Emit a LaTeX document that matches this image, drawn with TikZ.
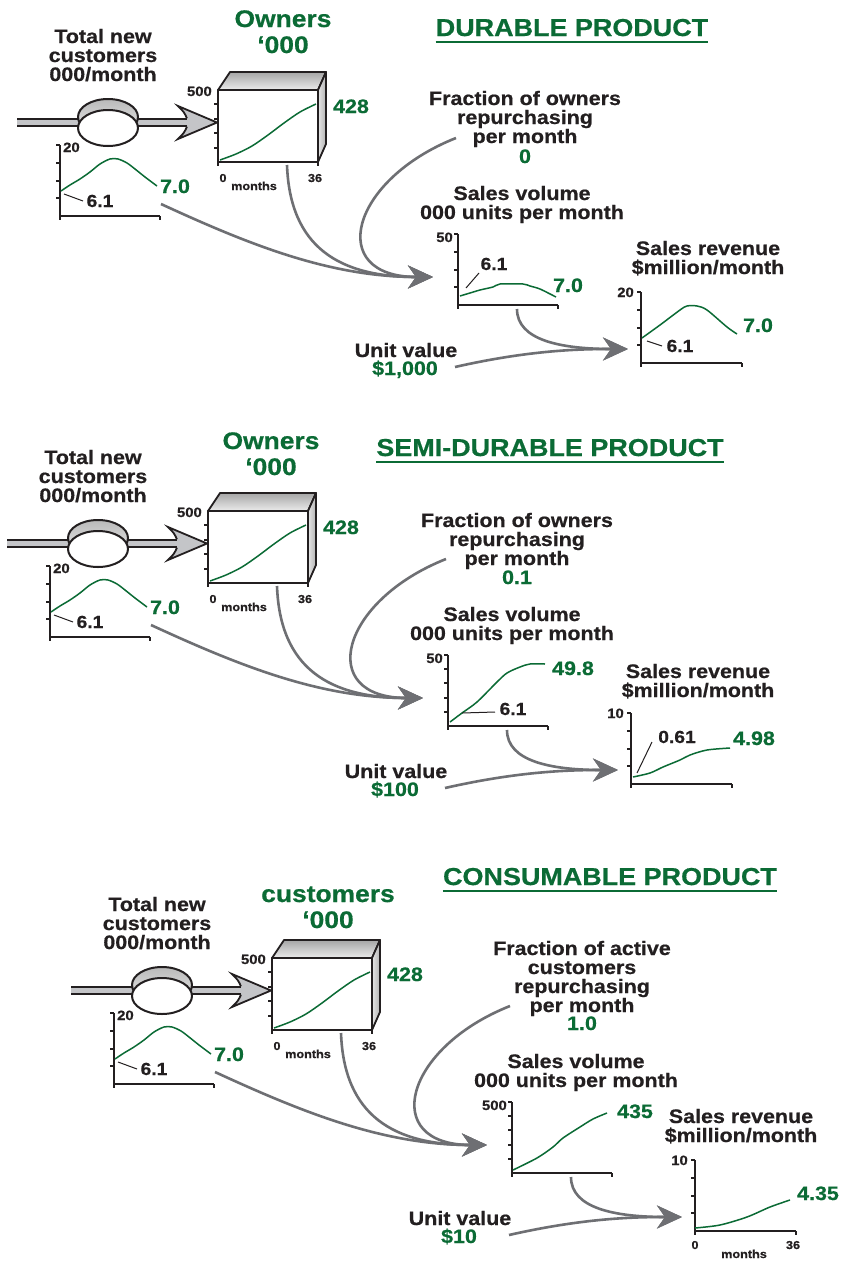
\documentclass[tikz,border=0pt]{standalone}
\usepackage{fontspec}
\setmainfont{Liberation Sans}[FakeStretch=1.1, BoldFeatures={FakeBold=0.6}]
\usetikzlibrary{arrows.meta}

\definecolor{ink}{HTML}{231F20}
\definecolor{leaf}{HTML}{0B6B35}
\definecolor{linkgrey}{HTML}{6E6F73}
\definecolor{pipefill}{HTML}{C4C5C8}

\tikzset{
  lbl/.style={inner sep=0pt, text=ink, align=center, font=\bfseries\fontsize{19.5}{19}\selectfont},
  val/.style={lbl, text=leaf},
  stockname/.style={inner sep=0pt, text=leaf, align=center, font=\bfseries\fontsize{24}{26}\selectfont},
  heading/.style={inner sep=0pt, text=leaf, font=\bfseries\fontsize{24.5}{26}\selectfont},
  scalelbl/.style={inner sep=0pt, text=ink, font=\bfseries\fontsize{13.5}{14}\selectfont},
  tinylbl/.style={inner sep=0pt, text=ink, font=\bfseries\fontsize{11.5}{12}\selectfont},
  notelbl/.style={inner sep=0pt, text=ink, font=\bfseries\fontsize{17.5}{18}\selectfont},
  axisline/.style={draw=ink, line width=2pt},
  trace/.style={draw=leaf, line width=1.5pt, line join=round},
  leaderline/.style={draw=ink, line width=1pt},
  link/.style={draw=linkgrey, line width=2.6pt, -{Stealth[length=25pt, width=23pt, inset=8pt]}},
  outline/.style={draw=ink, line width=2pt, line join=round},
}

% axes of a small time chart: left, top, right, bottom, number of tick intervals
\newcommand\chartaxes[5]{%
  \draw[axisline] (#1,#2) -- (#1,#4) -- (#3,#4);
  \foreach \k in {1,...,#5}{\draw[axisline] (#1,{#2+(\k-1)*(#4-#2)/#5}) -- ++(-4,0);}
  \draw[axisline] (#1,#4) -- ++(0,4);
  \draw[axisline] (#3,#4) -- ++(0,4);
}

% parts shared by every product panel (multi-line labels sit on their last baseline)
% #1 sales-volume tick intervals, #2 sales-volume scale, #3 revenue scale, #4 unit value
\newcommand\panelcore[4]{%
  % inflow pipe and arrow into the stock
  \draw[line width=9pt, draw=ink] (17,122.5) -- (190,122.5);
  \draw[line width=5pt, draw=pipefill] (17,122.5) -- (190,122.5);
  \filldraw[fill=pipefill, draw=ink, line width=1.8pt, line join=miter]
    (187,118.3) .. controls (184,112) .. (178,106) -- (217,122.5)
    -- (178,139) .. controls (184,133) .. (187,126.7);
  % valve
  \filldraw[outline, top color=gray!55, bottom color=gray!15] (108,117) ellipse [x radius=30pt, y radius=18pt];
  \filldraw[outline, fill=white] (108,128) ellipse [x radius=30pt, y radius=18pt];
  % stock box
  \filldraw[outline, line width=1.8pt, top color=gray!70, bottom color=gray!15] (218,90) -- (230,72) -- (326,72) -- (318,90) -- cycle;
  \filldraw[outline, line width=1.8pt, left color=gray!20, right color=gray!60] (318,90) -- (326,72) -- (326,144) -- (318,162) -- cycle;
  \filldraw[outline, fill=white] (218,90) rectangle (318,162);
  \foreach \k in {1,...,4}{\draw[axisline] (218,{90+\k*14.4}) -- ++(-4,0);}
  \draw[axisline] (218,162) -- ++(0,4);
  \draw[axisline] (318,162) -- ++(0,4);
  \draw[trace] plot[smooth] coordinates {(220,160) (236,154) (252,146) (268,135) (284,123) (300,112) (316,104)};
  \node[scalelbl, anchor=base east] (stockmax) at (212,96) {500};
  \node[tinylbl, anchor=base] (stockzero) at (223,182) {0};
  \node[tinylbl, anchor=base] (stockunit) at (254,190) {months};
  \node[tinylbl, anchor=base] (stockend) at (315,182) {36};
  \node[val, anchor=base] (stockval) at (351,113) {428};
  \node[lbl, anchor=base] (flowname) at (103,81) {Total new\\customers\\000/month};
  % inflow chart
  \chartaxes{60}{145}{160}{216}{4}
  \node[scalelbl, anchor=base west] (flowmax) at (63,152) {20};
  \draw[trace] plot[smooth] coordinates {(61,191) (70,185) (80,179) (90,172) (100,164) (110,159) (118,159) (127,163) (135,169) (145,177) (157,186)};
  \node[val, anchor=base] (flowend) at (175,193) {7.0};
  \node[notelbl, anchor=base] (flowstart) at (100,207) {6.1};
  \draw[leaderline] (64,194) -- (83,201);
  % sales volume chart
  \node[lbl, anchor=base] (volname) at (522,219) {Sales volume\\000 units per month};
  \chartaxes{458}{234}{558}{305}{#1}
  \node[scalelbl, anchor=base east] (volmax) at (453,242) {#2};
  % sales revenue chart
  \chartaxes{641}{292}{742}{363}{4}
  \node[scalelbl, anchor=base east] (revmax) at (634,297) {#3};
  % unit value
  \node[lbl, anchor=base] (unitname) at (406,357) {Unit value};
  \node[val, anchor=base] (unitval) at (405,375) {#4};
  % links
  \coordinate (flowout) at (161,204);
  \coordinate (stockout) at (287,165);
  \coordinate (fracout) at (456,138);
  \coordinate (volin) at (433,277);
  \coordinate (volout) at (517,309);
  \coordinate (unitout) at (455,367);
  \coordinate (revin) at (628,349);
  \draw[link] (flowout) .. controls (250,245) and (330,277) .. (volin);
  \draw[link] (stockout) .. controls (290,248) and (340,277) .. (volin);
  \draw[link] (fracout) .. controls (350,180) and (325,277) .. (volin);
  \draw[link] (volout) .. controls (517,340) and (560,349) .. (revin);
  \draw[link] (unitout) .. controls (530,350) and (580,349) .. (revin);
}

\begin{document}
\begin{tikzpicture}[x=1pt, y=-1pt]
\useasboundingbox (0,0) rectangle (842,1261);
\fill[white] (0,0) rectangle (842,1261);

% ---------- durable product ----------
\node[heading, anchor=base] (durable) at (572,36) {DURABLE PRODUCT};
\draw[draw=leaf, line width=2pt] ([yshift=-5.5pt]durable.base west) -- ([yshift=-5.5pt]durable.base east);
\begin{scope}[name prefix=d-]
  \panelcore{4}{50}{20}{\$1,000}
  \node[stockname, anchor=base] (stockname) at (283,53) {Owners\\‘000};
  \node[lbl, anchor=base] (fracname) at (525,143) {Fraction of owners\\repurchasing\\per month};
  \node[val, anchor=base] (fracval) at (525,163) {0};
  \node[lbl, anchor=base] (revname) at (708,274) {Sales revenue\\\$million/month};
  \draw[trace] plot[smooth, tension=0.4] coordinates {(460,296) (470,293) (480,290) (493,287) (500,284) (523,284) (530,286) (540,289) (556,297)};
  \node[notelbl, anchor=base] (volstart) at (494,270) {6.1};
  \draw[leaderline] (466,288) -- (479,273);
  \node[val, anchor=base] (volend) at (568,292) {7.0};
  \draw[trace] plot[smooth] coordinates {(642,338) (660,325) (680,310) (687,306) (697,306) (707,310) (727,327) (737,334)};
  \node[val, anchor=base] (revend) at (758,332) {7.0};
  \node[notelbl, anchor=base] (revstart) at (680,352) {6.1};
  \draw[leaderline] (647,341) -- (662,346);
\end{scope}

% ---------- semi-durable product ----------
\node[heading, anchor=base] (semidurable) at (550,456) {SEMI-DURABLE PRODUCT};
\draw[draw=leaf, line width=2pt] ([yshift=-6pt]semidurable.base west) -- ([yshift=-6pt]semidurable.base east);
\begin{scope}[shift={(-10,421)}, name prefix=s-]
  \panelcore{5}{50}{10}{\$100}
  \node[stockname, anchor=base] (stockname) at (281,54) {Owners\\‘000};
  \node[lbl, anchor=base] (fracname) at (527,144) {Fraction of owners\\repurchasing\\per month};
  \node[val, anchor=base] (fracval) at (527,163) {0.1};
  \node[lbl, anchor=base] (revname) at (708,276) {Sales revenue\\\$million/month};
  \draw[trace] plot[smooth] coordinates {(460,301) (472,292) (487,281) (507,261) (517,252) (530,246) (540,243) (555,243)};
  \node[val, anchor=base] (volend) at (583,254) {49.8};
  \node[notelbl, anchor=base] (volstart) at (523,294) {6.1};
  \draw[leaderline] (472,292) -- (505,291);
  \draw[trace] plot[smooth] coordinates {(643,356) (660,352) (673,346) (690,339) (700,334) (717,329) (740,327)};
  \node[val, anchor=base] (revend) at (764,324) {4.98};
  \node[notelbl, anchor=base] (revstart) at (687,322) {0.61};
  \draw[leaderline] (647,352) -- (662,321);
\end{scope}

% ---------- consumable product ----------
\node[heading, anchor=base] (consumable) at (610,885) {CONSUMABLE PRODUCT};
\draw[draw=leaf, line width=2pt] ([yshift=-6pt]consumable.base west) -- ([yshift=-6pt]consumable.base east);
\begin{scope}[shift={(54,868)}, name prefix=c-]
  \panelcore{5}{500}{10}{\$10}
  \node[stockname, anchor=base] (stockname) at (274,60) {customers\\‘000};
  \node[lbl, anchor=base] (fracname) at (528,144) {Fraction of active\\customers\\repurchasing\\per month};
  \node[val, anchor=base] (fracval) at (528,162) {1.0};
  \node[lbl, anchor=base] (revname) at (687,274) {Sales revenue\\\$million/month};
  \draw[trace] plot[smooth] coordinates {(459,302) (483,290) (499,279) (509,270) (526,259) (539,251) (553,245)};
  \node[val, anchor=base] (volend) at (581,250) {435};
  \draw[trace] plot[smooth] coordinates {(641,360) (666,357) (693,349) (716,339) (736,332)};
  \node[val, anchor=base] (revend) at (764,332) {4.35};
  \node[tinylbl, anchor=base] (revzero) at (641,381) {0};
  \node[tinylbl, anchor=base] (revunit) at (690,390) {months};
  \node[tinylbl, anchor=base] (revlast) at (739,381) {36};
\end{scope}
\end{tikzpicture}
\end{document}
